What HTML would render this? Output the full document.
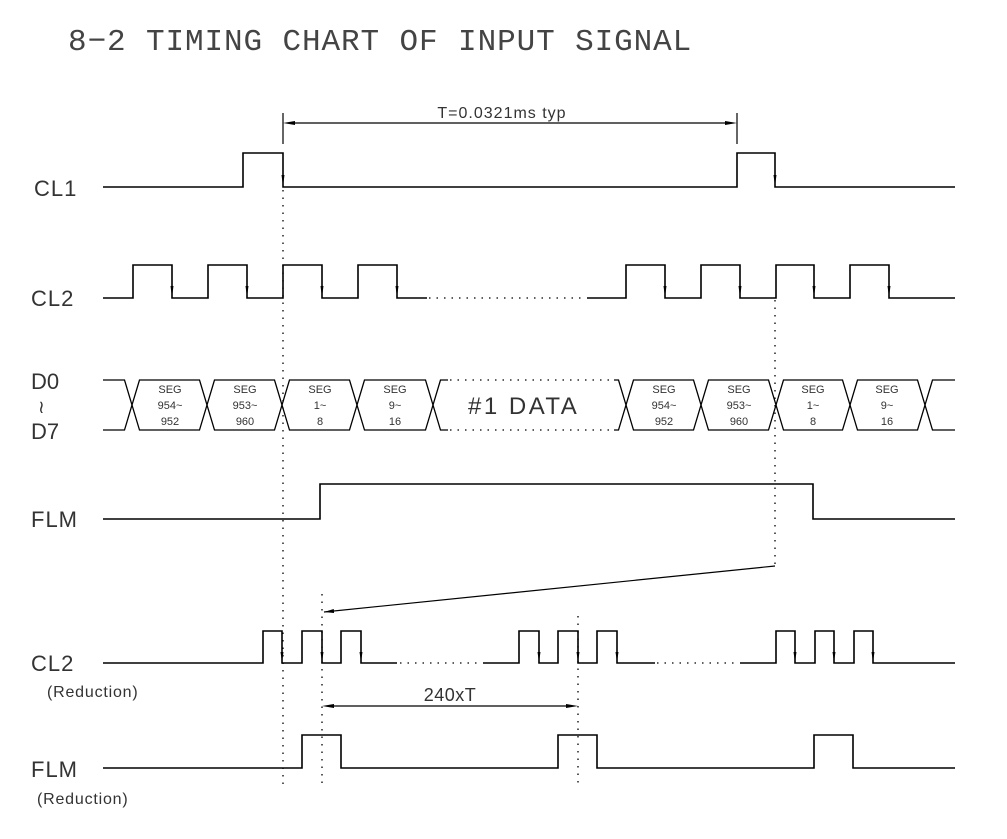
<!DOCTYPE html>
<html><head><meta charset="utf-8"><style>
html,body{margin:0;padding:0;background:#fff;}
svg{display:block}
text{font-family:"Liberation Sans",sans-serif;fill:#333}
</style></head><body>
<svg width="1007" height="839" viewBox="0 0 1007 839" xmlns="http://www.w3.org/2000/svg">
<defs>
<marker id="ah" viewBox="0 0 10 4" refX="10" refY="2" markerWidth="10" markerHeight="4" markerUnits="userSpaceOnUse" orient="auto"><path d="M0,0 L10,2 L0,4z" fill="#000"/></marker>
</defs>
<text x="68" y="50" style="font-family:'Liberation Mono',monospace;font-size:31px;letter-spacing:0.9px;fill:#444">8−2 TIMING CHART OF INPUT SIGNAL</text>

<g fill="none" stroke="#000" stroke-width="1.6">
<polyline points="103,187 243,187 243,153 283,153 283,187 737,187 737,153 775,153 775,187 955,187"/>
<polyline points="103,298 133,298 133,265 172,265 172,298 208,298 208,265 247,265 247,298 283,298 283,265 322,265 322,298 358,298 358,265 397,265 397,298 427,298"/>
<polyline points="587,298 626,298 626,265 665,265 665,298 701,298 701,265 740,265 740,298 776,298 776,265 814,265 814,298 850,298 850,265 889,265 889,298 955,298"/>
<polyline points="103,519 320,519 320,484 813,484 813,519 955,519"/>
<polyline points="103,663 263,663 263,631 282,631 282,663 302,663 302,631 322,631 322,663 341,663 341,631 361,631 361,663 397,663"/>
<polyline points="483,663 519,663 519,631 539,631 539,663 558,663 558,631 578,631 578,663 597,663 597,631 617,631 617,663 655,663"/>
<polyline points="740,663 776,663 776,631 795,631 795,663 815,663 815,631 834,631 834,663 854,663 854,631 873,631 873,663 955,663"/>
<polyline points="103,768 302,768 302,735 341,735 341,768 558,768 558,735 597,735 597,768 814,768 814,735 853,735 853,768 955,768"/>
</g>

<g fill="none" stroke="#000" stroke-width="1.3">
<path d="M103,380 H124.5 L139.5,430 H199.5 L214.5,380 H274.5 L289.5,430 H349.5 L364.5,380 H425.5 L440.5,430 H448"/>
<path d="M103,430 H124.5 L139.5,380 H199.5 L214.5,430 H274.5 L289.5,380 H349.5 L364.5,430 H425.5 L440.5,380 H448"/>
<path d="M614,380 H618.5 L633.5,430 H693.5 L708.5,380 H768.5 L783.5,430 H842.5 L857.5,380 H917.5 L932.5,430 H955"/>
<path d="M614,430 H618.5 L633.5,380 H693.5 L708.5,430 H768.5 L783.5,380 H842.5 L857.5,430 H917.5 L932.5,380 H955"/>
</g>
<g stroke="#000" stroke-width="1.3" stroke-dasharray="1.5,6" fill="none">
<line x1="450" y1="380" x2="612" y2="380"/>
<line x1="450" y1="430" x2="612" y2="430"/>
<line x1="429" y1="298" x2="586" y2="298"/>
<line x1="400" y1="663" x2="482" y2="663"/>
<line x1="657" y1="663" x2="739" y2="663"/>
<line x1="283" y1="190" x2="283" y2="786"/>
<line x1="775" y1="300" x2="775" y2="566"/>
<line x1="322" y1="594" x2="322" y2="788"/>
<line x1="578" y1="616" x2="578" y2="788"/>
</g>

<g fill="#000">
<path d="M281.5,175 L284.5,175 L283,186z"/>
<path d="M773.5,175 L776.5,175 L775,186z"/>
<path d="M170.5,286 L173.5,286 L172,297z"/><path d="M245.5,286 L248.5,286 L247,297z"/><path d="M320.5,286 L323.5,286 L322,297z"/><path d="M395.5,286 L398.5,286 L397,297z"/>
<path d="M663.5,286 L666.5,286 L665,297z"/><path d="M738.5,286 L741.5,286 L740,297z"/><path d="M812.5,286 L815.5,286 L814,297z"/><path d="M887.5,286 L890.5,286 L889,297z"/>
<path d="M280.5,652 L283.5,652 L282,662z"/><path d="M320.5,652 L323.5,652 L322,662z"/><path d="M359.5,652 L362.5,652 L361,662z"/>
<path d="M537.5,652 L540.5,652 L539,662z"/><path d="M576.5,652 L579.5,652 L578,662z"/><path d="M615.5,652 L618.5,652 L617,662z"/>
<path d="M793.5,652 L796.5,652 L795,662z"/><path d="M832.5,652 L835.5,652 L834,662z"/><path d="M871.5,652 L874.5,652 L873,662z"/>
</g>

<g stroke="#000" stroke-width="1.2" fill="none">
<line x1="283" y1="113" x2="283" y2="144"/>
<line x1="737" y1="113" x2="737" y2="144"/>
<line x1="290" y1="123" x2="730" y2="123"/>
<line x1="775" y1="566" x2="324" y2="612" marker-end="url(#ah)"/>
<line x1="330" y1="706" x2="570" y2="706"/>
</g>
<g fill="#000">
<path d="M283,123 L295,121 L295,125z"/><path d="M737,123 L725,121 L725,125z"/>
<path d="M322,706 L334,704 L334,708z"/><path d="M578,706 L566,704 L566,708z"/>
</g>
<text x="502" y="118" text-anchor="middle" font-size="16" letter-spacing="1">T=0.0321ms  typ</text>
<text x="450" y="701" text-anchor="middle" font-size="18" letter-spacing="0.5">240xT</text>

<g font-size="22">
<text x="34" y="196" letter-spacing="1">CL1</text>
<text x="31" y="306" letter-spacing="1">CL2</text>
<text x="31" y="389">D0</text>
<text x="38" y="413" font-size="18">≀</text>
<text x="31" y="439">D7</text>
<text x="31" y="527" letter-spacing="1">FLM</text>
<text x="31" y="671" letter-spacing="1">CL2</text>
<text x="31" y="777" letter-spacing="1">FLM</text>
</g>
<text x="47" y="697" font-size="16" letter-spacing="0.8">(Reduction)</text>
<text x="37" y="804" font-size="16" letter-spacing="0.8">(Reduction)</text>
<text x="468" y="414" font-size="24" letter-spacing="2.5">#1  DATA</text>

<g font-size="11" text-anchor="middle">
<text x="170" y="393">SEG</text><text x="170" y="409">954~</text><text x="170" y="425">952</text>
<text x="245" y="393">SEG</text><text x="245" y="409">953~</text><text x="245" y="425">960</text>
<text x="320" y="393">SEG</text><text x="320" y="409">1~</text><text x="320" y="425">8</text>
<text x="395" y="393">SEG</text><text x="395" y="409">9~</text><text x="395" y="425">16</text>
<text x="664" y="393">SEG</text><text x="664" y="409">954~</text><text x="664" y="425">952</text>
<text x="739" y="393">SEG</text><text x="739" y="409">953~</text><text x="739" y="425">960</text>
<text x="813" y="393">SEG</text><text x="813" y="409">1~</text><text x="813" y="425">8</text>
<text x="887" y="393">SEG</text><text x="887" y="409">9~</text><text x="887" y="425">16</text>
</g>
</svg>
</body></html>
